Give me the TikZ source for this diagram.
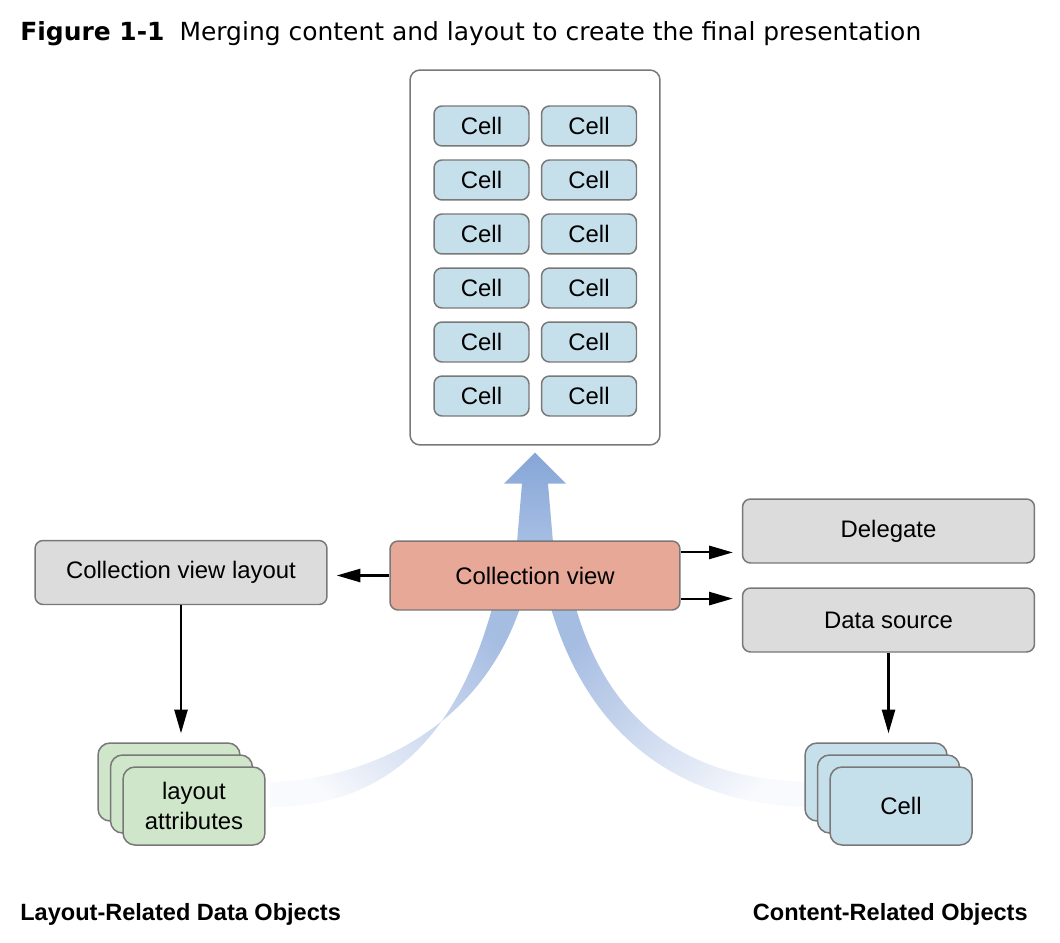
\documentclass[tikz,border=0pt]{standalone}
\usepackage{fontspec}
\setmainfont{Liberation Sans}
\newfontfamily\titlefont{DejaVu Sans}
\usetikzlibrary{arrows.meta,positioning,calc,backgrounds}
\definecolor{boxline}{HTML}{787878}
\definecolor{cellblue}{HTML}{C6E0EB}
\definecolor{objgray}{HTML}{DCDCDC}
\definecolor{salmon}{HTML}{E8A897}
\definecolor{attrgreen}{HTML}{CFE6CA}
\definecolor{arrowtop}{HTML}{86A6D7}
\definecolor{arrowbottom}{HTML}{A6BEE3}
\definecolor{bandtop}{HTML}{A6BDE2}
\definecolor{bandmid}{HTML}{BFCFEA}
\definecolor{bandlow}{HTML}{D8E2F3}
\definecolor{bandfaint}{HTML}{EDF1F9}
\definecolor{bandend}{HTML}{F8FAFD}
\pgfdeclareverticalshading{bandfade}{100bp}{color(0bp)=(bandend); color(25bp)=(bandend); color(32bp)=(bandfaint); color(45bp)=(bandlow); color(60bp)=(bandmid); color(76bp)=(bandtop); color(100bp)=(bandtop)}
\tikzset
{
    box/.style = {draw=boxline, line width=0.85pt, rounded corners=0.16cm, align=center, inner sep=0pt, font=\fontsize{13.6}{17}\selectfont},
    cellnode/.style = {box, fill=cellblue, minimum width=1.9cm, minimum height=0.8cm},
    objnode/.style = {box, fill=objgray, minimum width=5.84cm, minimum height=1.28cm},
    stacknode/.style = {box, rounded corners=0.24cm, minimum width=2.84cm, minimum height=1.56cm},
    flow/.style = {->, line width=1.2pt, shorten >=0.18cm}
}
\begin{document}
\begin{tikzpicture}[x=0.02cm, y=-0.02cm, >={Triangle[length=13.5pt,width=7.5pt]}]
\node[anchor=base west, inner sep=0pt, font=\titlefont\fontsize{14.2}{17}\selectfont] (title) at (20,41) {\textbf{Figure 1-1}\hspace{0.6em}Merging content and layout to create the final presentation};
% the finished screen
\node[box, fill=white, rounded corners=0.2cm, minimum width=5cm, minimum height=7.5cm] (screen) at (535,257.5) {};
\foreach \r in {0,...,5}{
  \node[cellnode] (cell-\r-a) at (481.5,126+54*\r) {Cell};
  \node[cellnode] (cell-\r-b) at (589,126+54*\r) {Cell};
}
% objects
\node[box, fill=salmon, minimum width=5.8cm, minimum height=1.38cm] (cv) at (535,575.5) {Collection view};
\node[objnode] (layout) at (181,572.5) {Collection view layout};
\node[objnode] (delegate) at (888.5,531) {Delegate};
\node[objnode] (source) at (888.5,620) {Data source};
% stacks
\coordinate (attr-pos) at (194,806);
\coordinate (stack-pos) at (901,806);
\foreach \k in {2,1}{
  \node[stacknode, fill=attrgreen] (attr-\k) at ($(attr-pos)+(-12.5*\k,-12*\k)$) {};
  \node[stacknode, fill=cellblue] (stack-\k) at ($(stack-pos)+(-12.5*\k,-12*\k)$) {};
}
\node[stacknode, fill=attrgreen] (attr) at (attr-pos) {layout\\attributes};
\node[stacknode, fill=cellblue] (stack) at (stack-pos) {Cell};
% captions
\node[anchor=base west, inner sep=0pt, font=\bfseries\fontsize{13.4}{16}\selectfont] (layout-label) at (20,920) {Layout-Related Data Objects};
\node[anchor=base east, inner sep=0pt, font=\bfseries\fontsize{13.4}{16}\selectfont] (content-label) at (1028,920) {Content-Related Objects};
% connectors
\draw[flow] (cv.west) -- (cv.west -| layout.east);
\draw[flow] (cv.9) -- (cv.9 -| delegate.west);
\draw[flow] (cv.-9) -- (cv.-9 -| source.west);
\draw[flow] (layout.south) -- (layout.south |- attr-2.north);
\draw[flow] (source.south) -- (source.south |- stack-2.north);
\begin{scope}[on background layer]
\fill[white] (0,0) rectangle (1060,942);
\shade[top color=arrowtop, bottom color=arrowbottom] ($(cv.north)+(-18,2)$) -- ($(screen.south)+(-13,38)$) -- ($(screen.south)+(-31,38)$) -- ($(screen.south)+(0,7)$) -- ($(screen.south)+(31,38)$) -- ($(screen.south)+(13,38)$) -- ($(cv.north)+(18,2)$) -- cycle;
\shade[shading=bandfade, shading angle=-45] (493,605) .. controls (455,745) and (380,807) .. (270,807) -- (270,782) .. controls (365,780) and (480,730) .. (521,605) -- cycle;
\shade[shading=bandfade, shading angle=45] (550,605) .. controls (590,745) and (690,805) .. (810,807) -- (810,782) .. controls (700,780) and (612,735) .. (575,605) -- cycle;
\end{scope}
\end{tikzpicture}
\end{document}
